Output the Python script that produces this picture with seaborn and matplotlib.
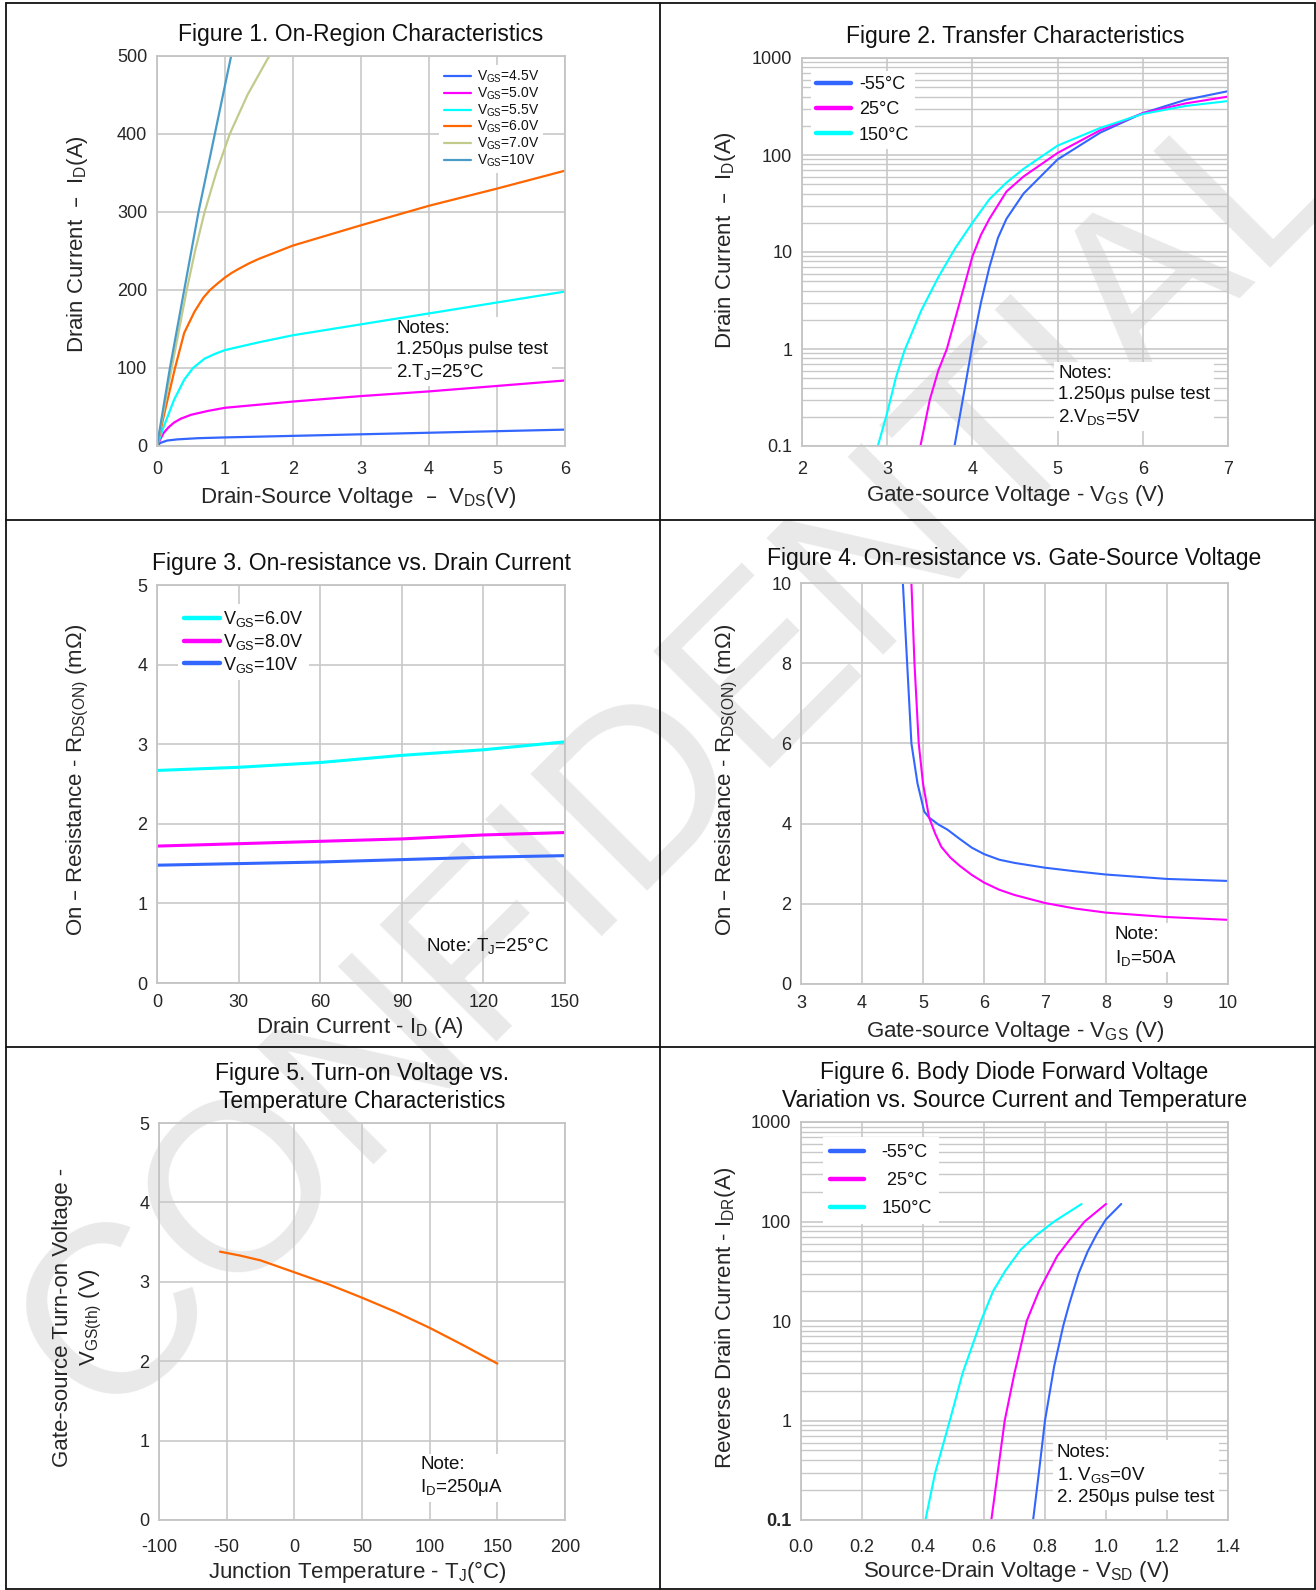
import numpy as np
import pandas as pd
import matplotlib
matplotlib.use("Agg")
import matplotlib.pyplot as plt
import seaborn as sns
from matplotlib.lines import Line2D
from matplotlib.ticker import LogLocator, NullFormatter

W, H = 1316, 1590

# -------------------------
# Figure 1: On-region characteristics (I_D vs V_DS)
# -------------------------
fig1_labels = ["V$_{GS}$=4.5V", "V$_{GS}$=5.0V", "V$_{GS}$=5.5V",
               "V$_{GS}$=6.0V", "V$_{GS}$=7.0V", "V$_{GS}$=10V"]
fig1_colors = ["#3366ff", "#ff00ff", "#00ffff", "#ff6600", "#c2cb8c", "#4a9cc8"]

vds_45 = [0, 0.05, 0.15, 0.3, 0.6, 1, 2, 3, 4, 5, 6]
id_45 = [0, 4, 7, 8.5, 10, 11, 13, 15, 17, 19, 21]
vds_50 = [0, 0.05, 0.1, 0.17, 0.25, 0.35, 0.5, 0.75, 1, 2, 3, 4, 5, 6]
id_50 = [0, 9, 17, 24, 30, 35, 40, 45, 49, 57, 64, 70, 77, 84]
vds_55 = [0, 0.1, 0.25, 0.4, 0.53, 0.7, 0.85, 1, 1.5, 2, 3, 4, 5, 6]
id_55 = [0, 25, 59, 85, 100, 112, 118, 123, 133, 142, 156, 170, 184, 198]
vds_60 = [0, 0.13, 0.265, 0.4, 0.55, 0.68, 0.78, 0.9, 1.0, 1.1, 1.2, 1.35, 1.5, 2, 3, 4, 5, 6]
id_60 = [0, 50, 100, 145, 172, 190, 200, 209, 216, 222, 227, 234, 240, 257, 283, 308, 330, 353]
vds_70 = [0, 0.216, 0.437, 0.56, 0.70, 0.87, 1.07, 1.33, 1.65]
id_70 = [0, 100, 200, 250, 300, 350, 400, 450, 500]
vds_10 = [0, 0.19, 0.40, 0.61, 0.85, 1.09]
id_10 = [0, 100, 200, 300, 400, 500]
fig1_x = [vds_45, vds_50, vds_55, vds_60, vds_70, vds_10]
fig1_y = [id_45, id_50, id_55, id_60, id_70, id_10]

# -------------------------
# Figure 2: Transfer characteristics (I_D vs V_GS, log)
# -------------------------
temp_labels = ["-55°C", "25°C", "150°C"]
temp_colors = ["#3366ff", "#ff00ff", "#00ffff"]

vgs_m55 = [3.79, 3.9, 4.0, 4.1, 4.2, 4.3, 4.4, 4.6, 4.8, 5.0, 5.5, 6.0, 6.5, 7.0]
id_m55 = [0.1, 0.35, 1.1, 3, 7, 14, 22, 40, 60, 90, 170, 270, 370, 455]
vgs_25 = [3.39, 3.5, 3.6, 3.7, 3.85, 4.0, 4.1, 4.2, 4.4, 4.6, 5.0, 5.5, 6.0, 6.5, 7.0]
id_25 = [0.1, 0.3, 0.6, 1.0, 3, 9, 15, 22, 42, 60, 105, 180, 270, 340, 400]
vgs_150 = [2.89, 3.0, 3.1, 3.2, 3.4, 3.6, 3.8, 4.0, 4.2, 4.4, 4.6, 5.0, 5.5, 6.0, 6.5, 7.0]
id_150 = [0.1, 0.22, 0.5, 0.95, 2.5, 5.5, 11, 20, 35, 52, 72, 125, 190, 265, 320, 360]
fig2_x = [vgs_m55, vgs_25, vgs_150]
fig2_y = [id_m55, id_25, id_150]

# -------------------------
# Figure 3: R_DS(on) vs I_D
# -------------------------
fig3_labels = ["V$_{GS}$=6.0V", "V$_{GS}$=8.0V", "V$_{GS}$=10V"]
fig3_colors = ["#00ffff", "#ff00ff", "#3366ff"]
id_pts = [0, 30, 60, 90, 120, 150]
rds_6v = [2.67, 2.71, 2.77, 2.86, 2.93, 3.03]
rds_8v = [1.72, 1.75, 1.78, 1.81, 1.86, 1.89]
rds_10v = [1.48, 1.50, 1.52, 1.55, 1.58, 1.60]

# -------------------------
# Figure 4: R_DS(on) vs V_GS
# -------------------------
vgs4_blue = [4.67, 4.74, 4.81, 4.91, 5.02, 5.1, 5.25, 5.4, 5.6, 5.8, 6.0, 6.25,
             6.5, 7, 7.5, 8, 9, 10]
rds4_blue = [10, 8, 6, 5, 4.3, 4.15, 3.98, 3.85, 3.62, 3.4, 3.24, 3.1,
             3.02, 2.9, 2.81, 2.73, 2.62, 2.57]
vgs4_mag = [4.81, 4.86, 4.93, 5.0, 5.1, 5.2, 5.3, 5.45, 5.6, 5.8, 6.0, 6.25,
            6.5, 7, 7.5, 8, 9, 10]
rds4_mag = [10, 8, 6, 5, 4.15, 3.75, 3.42, 3.15, 2.95, 2.72, 2.53, 2.35,
            2.22, 2.02, 1.88, 1.78, 1.67, 1.6]

# -------------------------
# Figure 5: V_GS(th) vs T_J
# -------------------------
tj = [-55, -40, -25, 0, 25, 50, 75, 100, 125, 150]
vth = [3.38, 3.33, 3.27, 3.12, 2.97, 2.8, 2.62, 2.42, 2.2, 1.97]

# -------------------------
# Figure 6: body diode forward voltage (I_DR vs V_SD, log)
# -------------------------
vsd_m55 = [0.761, 0.78, 0.80, 0.83, 0.86, 0.88, 0.91, 0.94, 0.97, 1.0, 1.05]
idr_m55 = [0.1, 0.3, 1, 3.5, 9, 15, 30, 50, 75, 105, 150]
vsd_25 = [0.624, 0.645, 0.668, 0.70, 0.74, 0.78, 0.84, 0.88, 0.93, 1.0]
idr_25 = [0.1, 0.3, 1, 3, 10, 20, 45, 65, 100, 150]
vsd_150 = [0.408, 0.44, 0.488, 0.53, 0.59, 0.63, 0.67, 0.72, 0.77, 0.83, 0.92]
idr_150 = [0.1, 0.3, 1, 3, 10, 20, 32, 52, 72, 100, 150]
fig6_labels = ["-55°C", " 25°C", "150°C"]

# -------------------------
# Style
# -------------------------
sns.set_style("whitegrid", {"grid.color": "#c8c8c8", "axes.edgecolor": "#c4c4c4"})
plt.rcParams["font.family"] = ["Liberation Sans", "DejaVu Sans"]
plt.rcParams["mathtext.default"] = "regular"
plt.rcParams["axes.unicode_minus"] = False
plt.rcParams["text.color"] = "#111111"

fig = plt.figure(figsize=(W / 100, H / 100), dpi=100)


def add_box(l, r, t, b):
    return fig.add_axes([l / W, 1 - b / H, (r - l) / W, (b - t) / H])


def style(ax, box, title, xlabel, ylabel, xl_pos, yl_pos, title_pad=11, xpad=11):
    l, r, t, b = box
    ax.set_facecolor("none")
    ax.set_title(title, fontsize=16.5, pad=title_pad, linespacing=1.25)
    ax.set_xlabel(xlabel, fontsize=16)
    ax.set_ylabel(ylabel, fontsize=16, linespacing=1.3)
    ax.xaxis.label.set_va("center")
    ax.yaxis.label.set_va("center")
    ax.xaxis.set_label_coords((xl_pos[0] - l) / (r - l), (b - xl_pos[1]) / (b - t))
    ax.yaxis.set_label_coords((yl_pos[0] - l) / (r - l), (b - yl_pos[1]) / (b - t))
    ax.tick_params(labelsize=13, length=0)
    ax.tick_params(axis="x", pad=xpad)
    ax.tick_params(axis="y", pad=7)
    for s in ax.spines.values():
        s.set_color("#c4c4c4")
        s.set_linewidth(1.3)
    ax.grid(True, which="major", color="#c8c8c8", lw=1.2)


def note(ax, px, py, txt):
    # white box hides the grid but stays under the curves
    ax.text(px / W, 1 - py / H, txt, transform=fig.transFigure, fontsize=13.5,
            ha="left", va="center", linespacing=1.3, zorder=1, clip_on=False,
            bbox=dict(facecolor="white", edgecolor="none", pad=3))


def log_axis(ax):
    ax.set_yscale("log")
    ax.set_ylim(0.1, 1000)
    ax.set_yticks([0.1, 1, 10, 100, 1000])
    ax.set_yticklabels(["0.1", "1", "10", "100", "1000"])
    ax.yaxis.set_minor_locator(LogLocator(base=10, subs=np.arange(2, 10)))
    ax.yaxis.set_minor_formatter(NullFormatter())
    ax.grid(True, which="minor", axis="y", color="#c8c8c8", lw=1.0)


# -------------------------
# Watermark (behind everything)
# -------------------------
fig.text(725 / W, 1 - 801 / H, "CONFIDENTIAL", fontsize=173, color="#e9e9e9",
         rotation=45, rotation_mode="anchor", ha="center", va="baseline",
         zorder=-1)

# -------------------------
# Figure 1
# -------------------------
b1 = (157, 565, 56, 446)
ax1 = add_box(*b1)
for xs, ys, c, lab in zip(fig1_x, fig1_y, fig1_colors, fig1_labels):
    sns.lineplot(x=xs, y=ys, ax=ax1, color=c, linewidth=1.6, label=lab,
                 estimator=None, sort=False)
ax1.set_xlim(0, 6)
ax1.set_ylim(0, 500)
ax1.set_xticks(range(0, 7))
ax1.set_yticks(range(0, 501, 100))
style(ax1, b1, "Figure 1. On-Region Characteristics",
      "Drain-Source Voltage  –  V$_{DS}$(V)", "Drain Current  –  I$_D$(A)",
      (358, 498), (77, 244))
leg = ax1.legend(loc="upper left", bbox_to_anchor=(0.675, 0.995), fontsize=10,
                 handlelength=2.0, labelspacing=0.02, handletextpad=0.4,
                 borderpad=0.3, frameon=True, facecolor="white",
                 edgecolor="none", framealpha=1, fancybox=False)
note(ax1, 396, 351, "Notes:\n1.250μs pulse test\n2.T$_J$=25°C")

# -------------------------
# Figure 2
# -------------------------
b2 = (802, 1228, 58, 446)
ax2 = add_box(*b2)
for xs, ys, c, lab in zip(fig2_x, fig2_y, temp_colors, temp_labels):
    sns.lineplot(x=xs, y=ys, ax=ax2, color=c, linewidth=1.5, label=lab,
                 estimator=None, sort=False)
log_axis(ax2)
ax2.set_xlim(2, 7)
ax2.set_xticks(range(2, 8))
style(ax2, b2, "Figure 2. Transfer Characteristics",
      "Gate-source Voltage - V$_{GS}$ (V)", "Drain Current  –  I$_D$(A)",
      (1015, 496), (725, 240))
leg = ax2.legend(loc="upper left", bbox_to_anchor=(0.0, 0.99), fontsize=13,
                 handlelength=1.9, labelspacing=0.45, handletextpad=0.45,
                 borderpad=0.3, frameon=True, facecolor="white",
                 edgecolor="none", framealpha=1, fancybox=False)
for ln in leg.get_lines():
    ln.set_linewidth(3.2)
note(ax2, 1058, 396, "Notes:\n1.250μs pulse test\n2.V$_{DS}$=5V")

# -------------------------
# Figure 3
# -------------------------
b3 = (157, 565, 585, 983)
ax3 = add_box(*b3)
for ys, c, lab in zip([rds_6v, rds_8v, rds_10v], fig3_colors, fig3_labels):
    sns.lineplot(x=id_pts, y=ys, ax=ax3, color=c, linewidth=2.2, label=lab,
                 estimator=None, sort=False)
ax3.set_xlim(0, 150)
ax3.set_ylim(0, 5)
ax3.set_xticks(range(0, 151, 30))
ax3.set_yticks(range(0, 6))
style(ax3, b3, "Figure 3. On-resistance vs. Drain Current",
      "Drain Current - I$_D$ (A)", "On – Resistance - R$_{DS(ON)}$ (mΩ)",
      (360, 1028), (78, 780), xpad=8)
leg = ax3.legend(loc="upper left", bbox_to_anchor=(0.03, 0.975), fontsize=13,
                 handlelength=2.0, labelspacing=0.15, handletextpad=0.2,
                 borderpad=0.3, frameon=True, facecolor="white",
                 edgecolor="none", framealpha=1, fancybox=False)
for ln in leg.get_lines():
    ln.set_linewidth(3.2)
ax3.text(426 / W, 1 - 946 / H, "Note: T$_J$=25°C", transform=fig.transFigure,
         fontsize=13.5, ha="left", va="center", zorder=1, clip_on=False)

# -------------------------
# Figure 4
# -------------------------
b4 = (801, 1228, 583, 984)
ax4 = add_box(*b4)
sns.lineplot(x=vgs4_blue, y=rds4_blue, ax=ax4, color="#3366ff", linewidth=1.5,
             estimator=None, sort=False)
sns.lineplot(x=vgs4_mag, y=rds4_mag, ax=ax4, color="#ff00ff", linewidth=1.5,
             estimator=None, sort=False)
ax4.set_xlim(3, 10)
ax4.set_ylim(0, 10)
ax4.set_xticks(range(3, 11))
ax4.set_yticks(range(0, 11, 2))
style(ax4, b4, "Figure 4. On-resistance vs. Gate-Source Voltage",
      "Gate-source Voltage - V$_{GS}$ (V)", "On – Resistance - R$_{DS(ON)}$ (mΩ)",
      (1015, 1031), (727, 780), title_pad=13, xpad=8)
note(ax4, 1115, 947, "Note:\nI$_D$=50A")

# -------------------------
# Figure 5
# -------------------------
b5 = (159, 565, 1123, 1520)
ax5 = add_box(*b5)
sns.lineplot(x=tj, y=vth, ax=ax5, color="#ff6600", linewidth=1.6,
             estimator=None, sort=False)
ax5.set_xlim(-100, 200)
ax5.set_ylim(0, 5)
ax5.set_xticks(range(-100, 201, 50))
ax5.set_yticks(range(0, 6))
style(ax5, b5, "Figure 5. Turn-on Voltage vs.\nTemperature Characteristics",
      "Junction Temperature - T$_J$(°C)",
      "Gate-source Turn-on Voltage -\nV$_{GS(th)}$ (V)",
      (357, 1572), (78, 1317), xpad=14)
note(ax5, 420, 1477, "Note:\nI$_D$=250μA")

# -------------------------
# Figure 6
# -------------------------
b6 = (801, 1228, 1122, 1520)
ax6 = add_box(*b6)
for xs, ys, c, lab in zip([vsd_m55, vsd_25, vsd_150], [idr_m55, idr_25, idr_150],
                          temp_colors, fig6_labels):
    sns.lineplot(x=xs, y=ys, ax=ax6, color=c, linewidth=1.5, label=lab,
                 estimator=None, sort=False)
log_axis(ax6)
ax6.set_xlim(0, 1.4)
ax6.set_xticks(np.arange(0, 1.41, 0.2))
ax6.set_xticklabels([f"{v:.1f}" for v in np.arange(0, 1.41, 0.2)])
style(ax6, b6, "Figure 6. Body Diode Forward Voltage\nVariation vs. Source Current and Temperature",
      "Source-Drain Voltage - V$_{SD}$ (V)", "Reverse Drain Current - I$_{DR}$(A)",
      (1016, 1571), (725, 1318), xpad=14)
ax6.get_yticklabels()[0].set_fontweight("bold")
leg = ax6.legend(loc="upper left", bbox_to_anchor=(0.03, 0.985), fontsize=13,
                 handlelength=1.9, labelspacing=0.6, handletextpad=0.95,
                 borderpad=0.4, frameon=True, facecolor="white",
                 edgecolor="none", framealpha=1, fancybox=False)
for ln in leg.get_lines():
    ln.set_linewidth(3.2)
note(ax6, 1057, 1475, "Notes:\n1. V$_{GS}$=0V\n2. 250μs pulse test")

# -------------------------
# Panel borders
# -------------------------
for (x0, y0, x1, y1) in [(6, 3, 1315, 3), (6, 1589, 1315, 1589), (6, 3, 6, 1589),
                         (1315, 3, 1315, 1589), (660, 3, 660, 1589),
                         (6, 520, 1315, 520), (6, 1047, 1315, 1047)]:
    fig.add_artist(Line2D([x0 / W, x1 / W], [1 - y0 / H, 1 - y1 / H],
                          transform=fig.transFigure, color="#111111", lw=1.3))

fig.savefig("out.png", dpi=100, facecolor="white")
